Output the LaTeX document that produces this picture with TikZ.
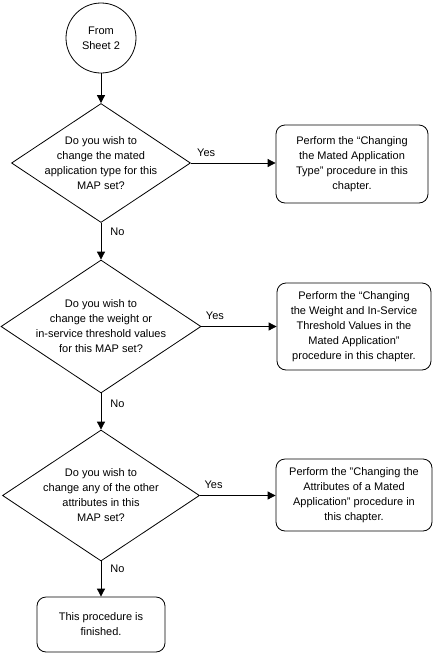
\documentclass[tikz,border=0pt]{standalone}
\usepackage{fontspec}
\setmainfont{Liberation Sans}
\usetikzlibrary{shapes.geometric,arrows.meta}
\begin{document}
\begin{tikzpicture}[x=1pt,y=-1pt,
  every node/.style={font=\fontsize{11}{15}\selectfont},
  conn/.style={line width=0.8pt,-{Triangle[length=8pt,width=8pt]}},
  dia/.style={draw,line width=0.8pt,shape=diamond,inner sep=0pt},
  txt/.style={align=center,inner sep=0pt},
  proc/.style={draw,line width=0.8pt,rounded corners=9pt,align=center,inner sep=0pt},
  lab/.style={inner sep=0pt}]
\useasboundingbox (0,0) rectangle (432,654);
\node[draw,line width=0.8pt,circle,minimum size=70pt,inner sep=0pt,align=center] (start) at (101,38) {From\\Sheet 2};
\node[dia,minimum width=179pt,minimum height=119pt] (d1) at (101,163) {};
\node[txt] at (d1.center) {Do you wish to\\change the mated\\application type for this\\MAP set?};
\node[proc,minimum width=152pt,minimum height=78pt] (p1) at (352,164) {Perform the “Changing\\the Mated Application\\Type” procedure in this\\chapter.};
\node[dia,minimum width=200pt,minimum height=133pt] (d2) at (101,326.5) {};
\node[txt] at (d2.center) {Do you wish to\\change the weight or\\in-service threshold values\\for this MAP set?};
\node[proc,minimum width=154pt,minimum height=87pt] (p2) at (354,326.5) {Perform the “Changing\\the Weight and In-Service\\Threshold Values in the\\Mated Application”\\procedure in this chapter.};
\node[dia,minimum width=197pt,minimum height=131pt] (d3) at (101,495.5) {};
\node[txt] at (d3.center) {Do you wish to\\change any of the other\\attributes in this\\MAP set?};
\node[proc,minimum width=156pt,minimum height=72pt] (p3) at (354,495) {Perform the "Changing the\\Attributes of a Mated\\Application" procedure in\\this chapter.};
\node[proc,minimum width=128pt,minimum height=55pt] (fin) at (101,624.5) {This procedure is\\finished.};
\draw[conn] (start) -- (d1.north);
\draw[conn] (d1.east) -- (p1.west|-d1.east) node[lab,pos=0.18,above=6pt] {Yes};
\draw[conn] (d1.south) -- (d2.north) node[lab,pos=0.25,right=9pt] {No};
\draw[conn] (d2.east) -- (p2.west|-d2.east) node[lab,pos=0.18,above=6pt] {Yes};
\draw[conn] (d2.south) -- (d3.north) node[lab,pos=0.3,right=9pt] {No};
\draw[conn] (d3.east) -- (p3.west|-d3.east) node[lab,pos=0.18,above=6pt] {Yes};
\draw[conn] (d3.south) -- (fin.north) node[lab,pos=0.2,right=9pt] {No};
\end{tikzpicture}
\end{document}
